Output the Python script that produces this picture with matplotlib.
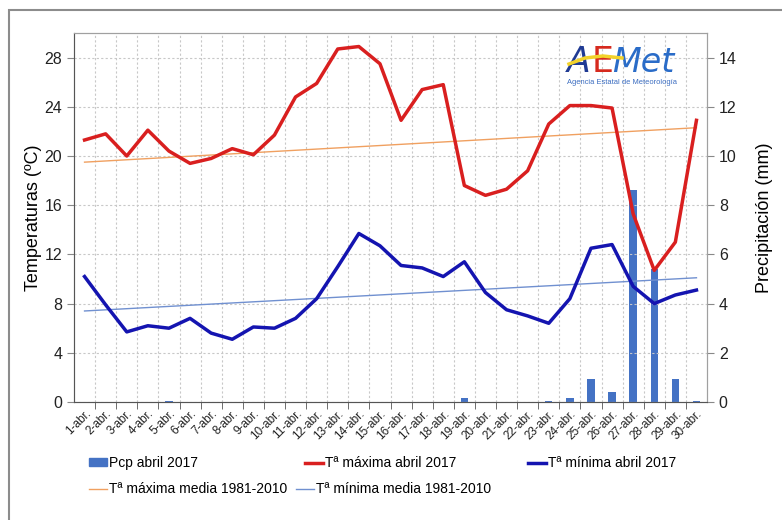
import numpy as np
import matplotlib
matplotlib.use("Agg")
import matplotlib.pyplot as plt
import matplotlib.lines as mlines
import matplotlib.patches as mpatches

# datos abril 2017
dias = list(range(1, 31))
etiquetas = ["%d-abr." % d for d in dias]

tmax = [21.3, 21.8, 20.0, 22.1, 20.4, 19.4, 19.8, 20.6, 20.1, 21.7,
        24.8, 25.9, 28.7, 28.9, 27.5, 22.9, 25.4, 25.8, 17.6, 16.8,
        17.3, 18.8, 22.6, 24.1, 24.1, 23.9, 15.3, 10.7, 13.0, 22.9]
tmin = [10.2, 7.9, 5.7, 6.2, 6.0, 6.8, 5.6, 5.1, 6.1, 6.0,
        6.8, 8.4, 11.0, 13.7, 12.7, 11.1, 10.9, 10.2, 11.4, 8.9,
        7.5, 7.0, 6.4, 8.4, 12.5, 12.8, 9.4, 8.0, 8.7, 9.1]
pcp = [0.0, 0.0, 0.0, 0.0, 0.05, 0.0, 0.0, 0.0, 0.0, 0.0,
       0.0, 0.0, 0.0, 0.0, 0.0, 0.0, 0.0, 0.0, 0.15, 0.0,
       0.0, 0.0, 0.03, 0.15, 0.95, 0.42, 8.6, 5.4, 0.93, 0.03]

# medias 1981-2010 (rectas, extremos)
dias_media = [1, 30]
tmax_media = [19.5, 22.3]
tmin_media = [7.4, 10.1]

rojo = "#D91F1F"
azul = "#1414B0"
barra = "#4472C4"
naranja = "#F0A060"
celeste = "#7090D0"

plt.rcParams["font.family"] = ["Liberation Sans", "DejaVu Sans"]

W, H = 782.0, 520.0
fig = plt.figure(figsize=(7.82, 5.2), dpi=100)
ax = fig.add_axes([74 / W, 1 - 402 / H, 633 / W, 369 / H])
ax2 = ax.twinx()

ax2.bar(dias, pcp, width=0.35, color=barra, zorder=1)
ax.set_zorder(ax2.get_zorder() + 1)
ax.patch.set_visible(False)

ax.plot(dias_media, tmax_media, color=naranja, lw=1.0, zorder=3)
ax.plot(dias_media, tmin_media, color=celeste, lw=1.0, zorder=3)
ax.plot(dias, tmax, color=rojo, lw=2.5, zorder=4)
ax.plot(dias, tmin, color=azul, lw=2.5, zorder=4)

ax.set_xlim(0.5, 30.5)
ax.set_ylim(0, 30)
ax2.set_ylim(0, 15)
ax.set_yticks(range(0, 29, 4))
ax2.set_yticks(range(0, 15, 2))

ax.set_xticks(dias)
ax.set_xticklabels(etiquetas, rotation=45, ha="right", rotation_mode="anchor",
                   fontsize=8.5, color="#222222")
ax.tick_params(axis="x", length=0, pad=4)
ax.set_xticks(np.arange(1.5, 30.5, 1), minor=True)
ax.tick_params(axis="x", which="minor", length=5, direction="out", color="#555555")

ax.tick_params(axis="y", labelsize=11.5, length=5, color="#888888", labelcolor="#222222")
ax2.tick_params(axis="y", labelsize=11.5, length=5, color="#888888", labelcolor="#222222")

ax.grid(True, axis="y", ls=(0, (2, 2)), color="#C8C8C8", lw=0.8)
ax.grid(True, axis="x", which="minor", ls=(0, (2, 2)), color="#C8C8C8", lw=0.8)
ax.set_axisbelow(True)

for a in (ax, ax2):
    for s in a.spines.values():
        s.set_color("#A0A0A0")
ax.spines["bottom"].set_color("#555555")
ax.spines["left"].set_color("#555555")

ax.set_ylabel("Temperaturas (ºC)", fontsize=13, labelpad=2)
ax2.set_ylabel("Precipitación (mm)", fontsize=13, labelpad=14)

# logo AEMET
yb = 1 - 72 / H
fig.text(567 / W, yb, "A", color="#1F3A93", fontsize=25, style="italic",
         fontweight="light", family="DejaVu Sans", zorder=2)
fig.text(592 / W, yb, "E", color="#D62A1E", fontsize=25, family="DejaVu Sans",
         zorder=2)
fig.text(612 / W, yb, "Met", color="#2A6CC8", fontsize=24, style="italic",
         family="DejaVu Sans", zorder=2)
fig.add_artist(mlines.Line2D([569 / W, 585 / W, 603 / W, 622 / W],
                             [1 - 64 / H, 1 - 58 / H, 1 - 56 / H, 1 - 58 / H],
                             color="#F2D22A", lw=2.5, zorder=3))
fig.text(567 / W, 1 - 83 / H, "Agencia Estatal de Meteorología",
         color="#3A6CC0", fontsize=5.4, va="center")

# leyenda, una entrada por posición
h_pcp = mpatches.Patch(color=barra)
h_max = mlines.Line2D([], [], color=rojo, lw=2.5)
h_min = mlines.Line2D([], [], color=azul, lw=2.5)
h_maxm = mlines.Line2D([], [], color=naranja, lw=1.0)
h_minm = mlines.Line2D([], [], color=celeste, lw=1.0)
entradas = [
    (h_pcp, "Pcp abril 2017", 89, 463),
    (h_max, "Tª máxima abril 2017", 305, 463),
    (h_min, "Tª mínima abril 2017", 528, 463),
    (h_maxm, "Tª máxima media 1981-2010", 89, 489),
    (h_minm, "Tª mínima media 1981-2010", 296, 489),
]
for h, lab, x, y in entradas:
    fig.legend([h], [lab], loc="center left", bbox_to_anchor=(x / W, 1 - y / H),
               frameon=False, handlelength=1.3, handleheight=0.5,
               handletextpad=0.15, borderpad=0, borderaxespad=0,
               prop={"size": 10})

# marco exterior
fig.add_artist(mpatches.Rectangle((9 / W, -0.05), 1.0, 1.05 - 10 / H,
                                  fill=False, edgecolor="#8C8C8C", lw=1.5))

fig.savefig("out.png", dpi=100)
